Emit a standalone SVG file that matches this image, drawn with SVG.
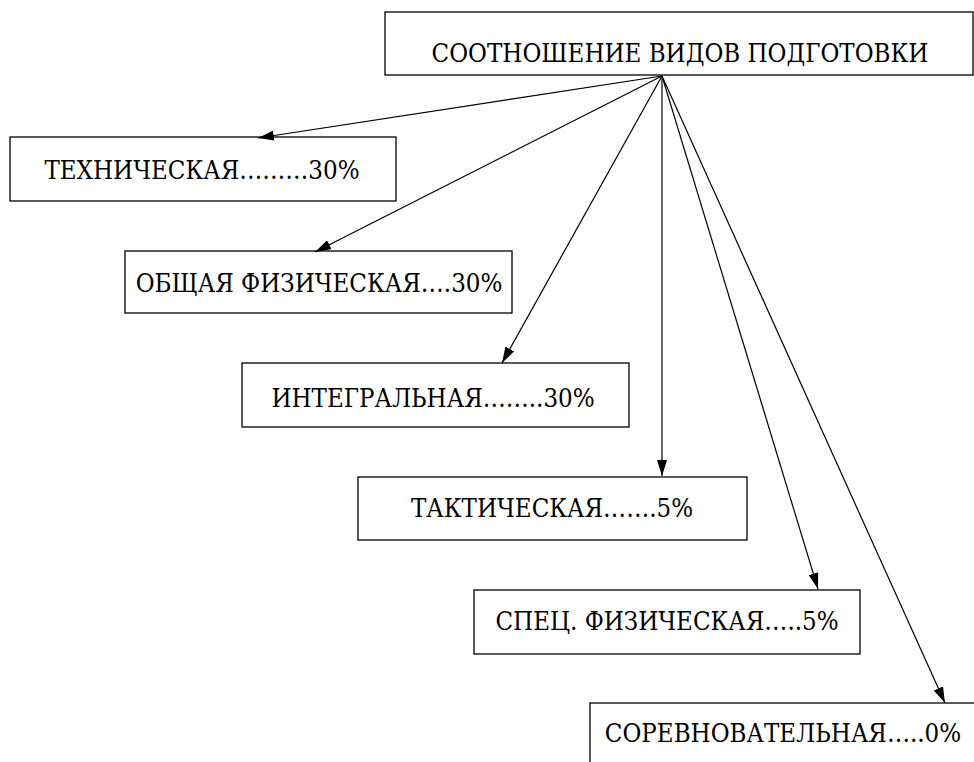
<svg xmlns="http://www.w3.org/2000/svg" width="974" height="762" viewBox="0 0 974 762">
<defs>
<marker id="arr" markerUnits="userSpaceOnUse" markerWidth="16" markerHeight="10" refX="16" refY="5" orient="auto">
<path d="M0,0 L16,5 L0,10 z" fill="#000"/>
</marker>
<style>
.box{fill:#fff;stroke:#000;stroke-width:1.3}
.t{font-size:25.6px;fill:#000;text-anchor:middle}
.c{stroke:#000;stroke-width:1.2;fill:none}
</style>
</defs>
<rect width="974" height="762" fill="#fff"/>
<g font-family="'DejaVu Serif Condensed', 'DejaVu Serif', serif">
<g id="root"><rect class="box" x="385" y="12" width="588" height="63"/><text class="t" x="680" y="62">СООТНОШЕНИЕ ВИДОВ ПОДГОТОВКИ</text></g>
<g id="n1"><rect class="box" x="10" y="137" width="386" height="64"/><text class="t" x="202" y="179">ТЕХНИЧЕСКАЯ………30%</text></g>
<g id="n2"><rect class="box" x="125" y="251" width="387" height="62"/><text class="t" x="319" y="292">ОБЩАЯ ФИЗИЧЕСКАЯ….30%</text></g>
<g id="n3"><rect class="box" x="242" y="363" width="387" height="64"/><text class="t" x="433" y="407">ИНТЕГРАЛЬНАЯ……..30%</text></g>
<g id="n4"><rect class="box" x="358" y="477" width="389" height="63"/><text class="t" x="552" y="517">ТАКТИЧЕСКАЯ…….5%</text></g>
<g id="n5"><rect class="box" x="474" y="590" width="386" height="64"/><text class="t" x="667" y="630">СПЕЦ. ФИЗИЧЕСКАЯ…..5%</text></g>
<g id="n6"><rect class="box" x="590" y="703" width="390" height="70"/><text class="t" x="783" y="742">СОРЕВНОВАТЕЛЬНАЯ…..0%</text></g>
</g>
<g id="connectors">
<line class="c" x1="662" y1="76" x2="258" y2="138" marker-end="url(#arr)"/>
<line class="c" x1="662" y1="76" x2="315" y2="252" marker-end="url(#arr)"/>
<line class="c" x1="662" y1="76" x2="502" y2="363" marker-end="url(#arr)"/>
<line class="c" x1="662" y1="76" x2="662" y2="476" marker-end="url(#arr)"/>
<line class="c" x1="662" y1="76" x2="818" y2="589" marker-end="url(#arr)"/>
<line class="c" x1="662" y1="76" x2="945" y2="703" marker-end="url(#arr)"/>
</g>
</svg>
